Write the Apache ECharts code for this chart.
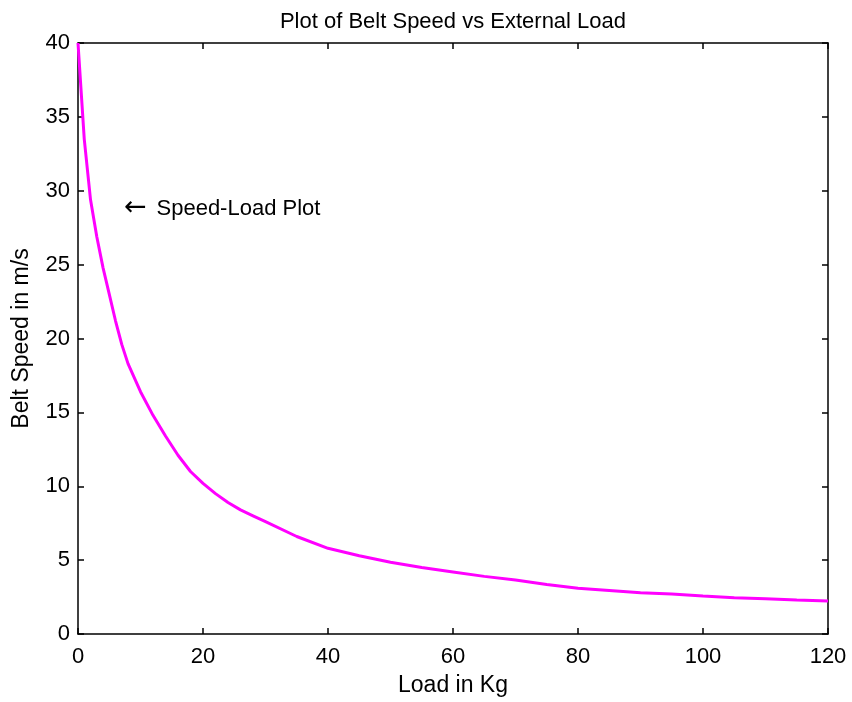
<!DOCTYPE html>
<html lang="en">

<head>
    <meta charset="UTF-8">
    <title>Belt Speed vs External Load</title>
    <script src="https://cdn.jsdelivr.net/npm/echarts@6/dist/echarts.min.js"></script>
    <style>
        html, body { margin: 0; padding: 0; background: #fff; }
        #chart { width: 852px; height: 702px; }
    </style>
</head>

<body>
    <div id="chart"></div>

    <script>
    // values
    var loads = [0, 1, 2, 3, 4, 5, 6, 7, 8, 10, 12, 14, 16, 18, 20, 22, 24, 26, 28, 30,
        35, 40, 45, 50, 55, 60, 65, 70, 75, 80, 85, 90, 95, 100, 105, 110, 115, 120];
    var speeds = [40, 33.5, 29.4, 26.9, 24.8, 23.0, 21.2, 19.6, 18.3, 16.4, 14.8, 13.4, 12.1, 11.0, 10.2, 9.5, 8.9, 8.4, 8.0, 7.6,
        6.6, 5.8, 5.3, 4.85, 4.5, 4.2, 3.9, 3.65, 3.35, 3.1, 2.95, 2.8, 2.7, 2.57, 2.45, 2.38, 2.3, 2.23];
    var xTicks = [0, 20, 40, 60, 80, 100, 120];
    var yTicks = [0, 5, 10, 15, 20, 25, 30, 35, 40];
    var noteAt = [7.5, 28.8];
    var noteArrow = '\u2190';
    var noteText = 'Speed-Load Plot';

    var font = 'Liberation Sans, Arial, sans-serif';
    var chart = echarts.init(document.getElementById('chart'));

    var points = [];
    for (var i = 0; i < loads.length; i++) {
        points.push([loads[i], speeds[i]]);
    }

    function boxAxis(show, extra) {
        var ax = {
            type: 'value',
            axisLine: { show: true, onZero: false, lineStyle: { color: '#000', width: 1.5 } },
            axisTick: { show: true, inside: true, length: 6, lineStyle: { color: '#000', width: 1.5 } },
            axisLabel: { show: show, color: '#000', fontFamily: font, fontSize: 22 },
            splitLine: { show: false }
        };
        for (var k in extra) ax[k] = extra[k];
        return ax;
    }

    var option = {
        backgroundColor: '#fff',
        animation: false,
        title: {
            text: 'Plot of Belt Speed vs External Load',
            left: 448,
            textAlign: 'center',
            top: 6,
            textStyle: { color: '#000', fontFamily: font, fontSize: 22, fontWeight: 'normal' }
        },
        grid: { left: 78, right: 24, top: 43, bottom: 68 },
        xAxis: [
            boxAxis(true, {
                min: xTicks[0], max: xTicks[xTicks.length - 1], interval: 20,
                name: 'Load in Kg', nameLocation: 'middle', nameGap: 40,
                nameTextStyle: { color: '#000', fontFamily: font, fontSize: 23 }
            }),
            boxAxis(false, { position: 'top', min: 0, max: 120, interval: 20 })
        ],
        yAxis: [
            boxAxis(true, {
                min: yTicks[0], max: yTicks[yTicks.length - 1], interval: 5,
                name: 'Belt Speed in m/s', nameLocation: 'middle', nameGap: 45,
                nameTextStyle: { color: '#000', fontFamily: font, fontSize: 23 }
            }),
            boxAxis(false, { position: 'right', min: 0, max: 40, interval: 5 })
        ],
        series: [{
            type: 'line',
            data: points,
            showSymbol: false,
            smooth: false,
            lineStyle: { color: '#ff00ff', width: 3 }
        }]
    };
    option.xAxis[0].axisLabel.margin = 12;
    option.yAxis[0].axisLabel.margin = 8;
    chart.setOption(option);

    var pos = chart.convertToPixel({ gridIndex: 0 }, noteAt);
    chart.setOption({
        graphic: [{
            type: 'text',
            x: pos[0] - 1,
            y: pos[1],
            style: {
                text: '{a|' + noteArrow + '}{b|' + noteText + '}',
                rich: {
                    a: { fill: '#000', fontFamily: 'DejaVu Sans', fontSize: 27 },
                    b: { fill: '#000', fontFamily: font, fontSize: 22, padding: [0, 0, 0, 10] }
                },
                fill: '#000',
                fontFamily: font,
                fontSize: 22,
                textAlign: 'left',
                textVerticalAlign: 'middle'
            }
        }]
    });
    </script>
</body>

</html>
